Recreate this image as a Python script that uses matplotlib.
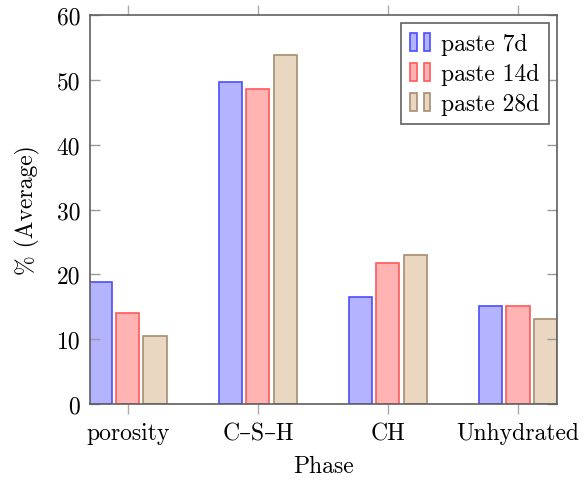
import numpy as np
import matplotlib
matplotlib.use("Agg")
import matplotlib.pyplot as plt
from matplotlib.legend_handler import HandlerTuple
from matplotlib.patches import Rectangle

plt.rcParams['font.family'] = ['cmr10', 'DejaVu Serif']
plt.rcParams['font.size'] = 17

phases = ['porosity', 'C–S–H', 'CH', 'Unhydrated']
paste_7d = [18.8, 49.7, 16.5, 15.1]
paste_14d = [14.0, 48.6, 21.8, 15.1]
paste_28d = [10.5, 53.9, 23.0, 13.1]
series_names = ['paste 7d', 'paste 14d', 'paste 28d']

fills = ['#b3b3ff', '#ffb3b3', '#e9d7c2']
edges = ['#4d4dff', '#ff5959', '#a88c70']

fig = plt.figure(figsize=(5.87, 4.81), dpi=100)
ax = fig.add_axes([0.1533, 0.158, 0.7956, 0.8087])

x = np.arange(len(phases))
w = 0.177
step = 0.208
handles = []
for i, vals in enumerate([paste_7d, paste_14d, paste_28d]):
    ax.bar(x + (i - 1) * step, vals, width=w, color=fills[i],
           edgecolor=edges[i], linewidth=1.2)
    h = (Rectangle((0, 0), 1, 1, facecolor=fills[i], edgecolor=edges[i], linewidth=1.2),
         Rectangle((0, 0), 1, 1, facecolor=fills[i], edgecolor=edges[i], linewidth=1.2))
    handles.append(h)

ax.set_xlim(-0.292, 3.30)
ax.set_ylim(0, 60)
ax.set_xticks(x)
ax.set_xticklabels(phases)
ax.set_yticks(range(0, 61, 10))
ax.set_yticklabels([str(v) for v in range(0, 61, 10)])

for s in ax.spines.values():
    s.set_color('#606060')
    s.set_linewidth(1.2)
ax.tick_params(axis='y', direction='in', left=True, right=True, length=7,
               color='#999999', width=1.0, pad=7)
ax.tick_params(axis='x', direction='out', bottom=True, top=True, length=7,
               color='#aaaaaa', width=1.0, pad=6)

ax.set_xlabel('Phase', labelpad=8)
ax.set_ylabel('% (Average)', labelpad=12)

leg = ax.legend(handles, series_names, loc='upper right',
                handler_map={tuple: HandlerTuple(ndivide=None, pad=0.3)},
                handlelength=0.85, handleheight=0.8, labelspacing=0.33,
                handletextpad=0.45, borderpad=0.4, fancybox=False,
                framealpha=1, edgecolor='#606060', borderaxespad=0.35)
leg.get_frame().set_linewidth(1.2)

fig.savefig('out.png', dpi=100)
